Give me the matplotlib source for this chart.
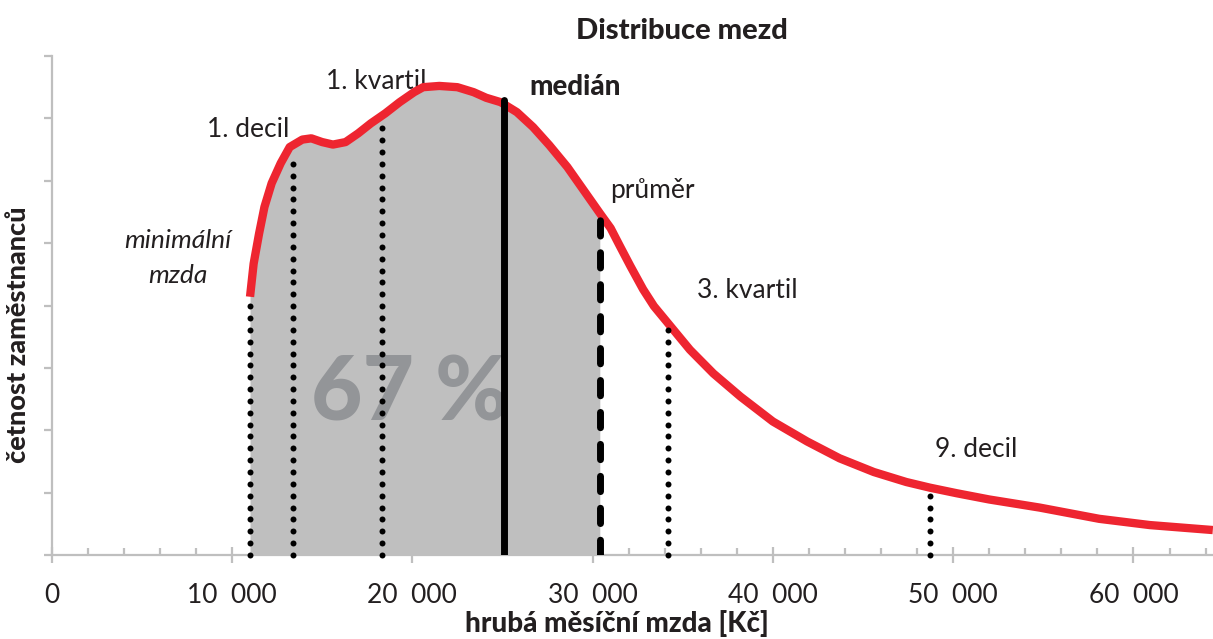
import numpy as np
import matplotlib
matplotlib.use("Agg")
import matplotlib.pyplot as plt
from matplotlib.ticker import MultipleLocator

plt.rcParams['font.family'] = ['Lato', 'DejaVu Sans']

# curve (x in Kč, y in tick units)
wage = [11000, 11200, 11500, 11800, 12200, 12700, 13200, 13900, 14400, 15000,
        15600, 16300, 17000, 17700, 18500, 19300, 20100, 20600, 21500, 22500,
        23400, 24100, 24900, 25800, 26700, 27600, 28600, 29500, 30400, 31000,
        31500, 32100, 32800, 33400, 34200, 35400, 36700, 38200, 40000, 41900,
        43700, 45600, 47400, 48700, 50200, 52000, 54800, 58100, 60900, 64400]
count = [4.14, 4.67, 5.15, 5.58, 5.96, 6.28, 6.54, 6.66, 6.68, 6.62,
         6.58, 6.62, 6.76, 6.92, 7.08, 7.26, 7.42, 7.50, 7.52, 7.50,
         7.42, 7.33, 7.26, 7.10, 6.86, 6.57, 6.22, 5.85, 5.48, 5.24,
         4.96, 4.63, 4.26, 3.99, 3.71, 3.29, 2.91, 2.54, 2.14, 1.82,
         1.55, 1.33, 1.17, 1.08, 0.99, 0.89, 0.76, 0.58, 0.48, 0.40]

# marker lines: wage and height where the line meets the curve
dotted_names = ['minimální mzda', '1. decil', '1. kvartil', '3. kvartil', '9. decil']
dotted_x = [11000, 13400, 18300, 34200, 48700]
dotted_top = [4.05, 6.35, 6.94, 3.69, 0.99]
median_x, median_top = 25100, 7.29
mean_x, mean_top = 30400, 5.42
share_text = '67 %'

xticks = [0, 10000, 20000, 30000, 40000, 50000, 60000]
xtick_labels = ['0', '10  000', '20  000', '30  000', '40  000', '50  000', '60  000']

RED = '#ee2530'
GRAY_AX = '#bfbfbf'
FILL = '#bfbfbf'
INK = '#231f20'
DOT_STEP = 0.19  # spacing of the dots along the dotted lines (y units)

fig = plt.figure(figsize=(12.13, 6.39), dpi=100)
ax = fig.add_axes([51.7 / 1213, 84 / 639, 1 - 51.7 / 1213, 499 / 639])
ax.set_xlim(0, 64410)
ax.set_ylim(0, 8)

w = np.array(wage)
c = np.array(count)
ax.fill_between(w, 0, c, where=w <= mean_x, color=FILL, lw=0, zorder=3)
ax.plot(w, c, color=RED, lw=6, solid_capstyle='butt', solid_joinstyle='round', zorder=5)

# dotted lines: round dots from the axis up to the curve
for x, top in zip(dotted_x, dotted_top):
    ys = np.arange(0, top, DOT_STEP)
    ax.plot(np.full(len(ys), x), ys, ls='none', marker='o', ms=4.3,
            mfc='black', mec='black', mew=0, zorder=6, clip_on=False)
ax.plot([median_x, median_x], [0, median_top], color='black', lw=5,
        solid_capstyle='round', zorder=6)
ax.plot([mean_x, mean_x], [0, mean_top], color='black', lw=5,
        ls=(0, (2.2, 2.4)), dash_capstyle='round', zorder=6)

# text
ax.text(19870, 2.16, share_text, fontsize=64, fontweight='black', color='#939598',
        ha='center', va='baseline', zorder=4)
ax.text(10890, 6.70, '1. decil', fontsize=19, color=INK, ha='center', va='baseline')
ax.text(17990, 7.47, '1. kvartil', fontsize=19, color=INK, ha='center', va='baseline')
ax.text(29020, 7.37, 'medián', fontsize=20, fontweight='black', color=INK,
        ha='center', va='baseline')
ax.text(33290, 5.72, 'průměr', fontsize=19, color=INK, ha='center', va='baseline')
ax.text(38560, 4.12, '3. kvartil', fontsize=19, color=INK, ha='center', va='baseline')
ax.text(51260, 1.57, '9. decil', fontsize=19, color=INK, ha='center', va='baseline')
ax.text(7000, 4.92, 'minimální', fontsize=19, style='italic', color=INK,
        ha='center', va='baseline')
ax.text(7000, 4.36, 'mzda', fontsize=19, style='italic', color=INK,
        ha='center', va='baseline')

# axes styling
for s in ['top', 'right']:
    ax.spines[s].set_visible(False)
for s in ['left', 'bottom']:
    ax.spines[s].set_color(GRAY_AX)
    ax.spines[s].set_linewidth(1.6)
    ax.spines[s].set_zorder(4)

ax.set_xticks(xticks)
ax.set_xticklabels(xtick_labels)
ax.xaxis.set_minor_locator(MultipleLocator(2000))
ax.tick_params(axis='x', which='major', direction='inout', length=12, width=1.6,
               color=GRAY_AX, labelsize=19, labelcolor=INK, pad=14)
ax.tick_params(axis='x', which='minor', direction='in', length=5, width=1.6, color=GRAY_AX)
ax.set_yticks(np.arange(0, 9, 1))
ax.tick_params(axis='y', which='major', direction='out', length=6, width=1.6,
               color=GRAY_AX, labelleft=False)

fig.text(682 / 1213, (639 - 39) / 639, 'Distribuce mezd', fontsize=21, fontweight='black',
         color=INK, ha='center', va='baseline')
fig.text(617 / 1213, (639 - 632) / 639, 'hrubá měsíční mzda [Kč]', fontsize=20,
         fontweight='black', color=INK, ha='center', va='baseline')
fig.text(18 / 1213, (639 - 335) / 639, 'četnost zaměstnanců', fontsize=19.5,
         fontweight='black', color=INK, ha='center', va='center', rotation=90)

fig.savefig('out.png', dpi=100)
